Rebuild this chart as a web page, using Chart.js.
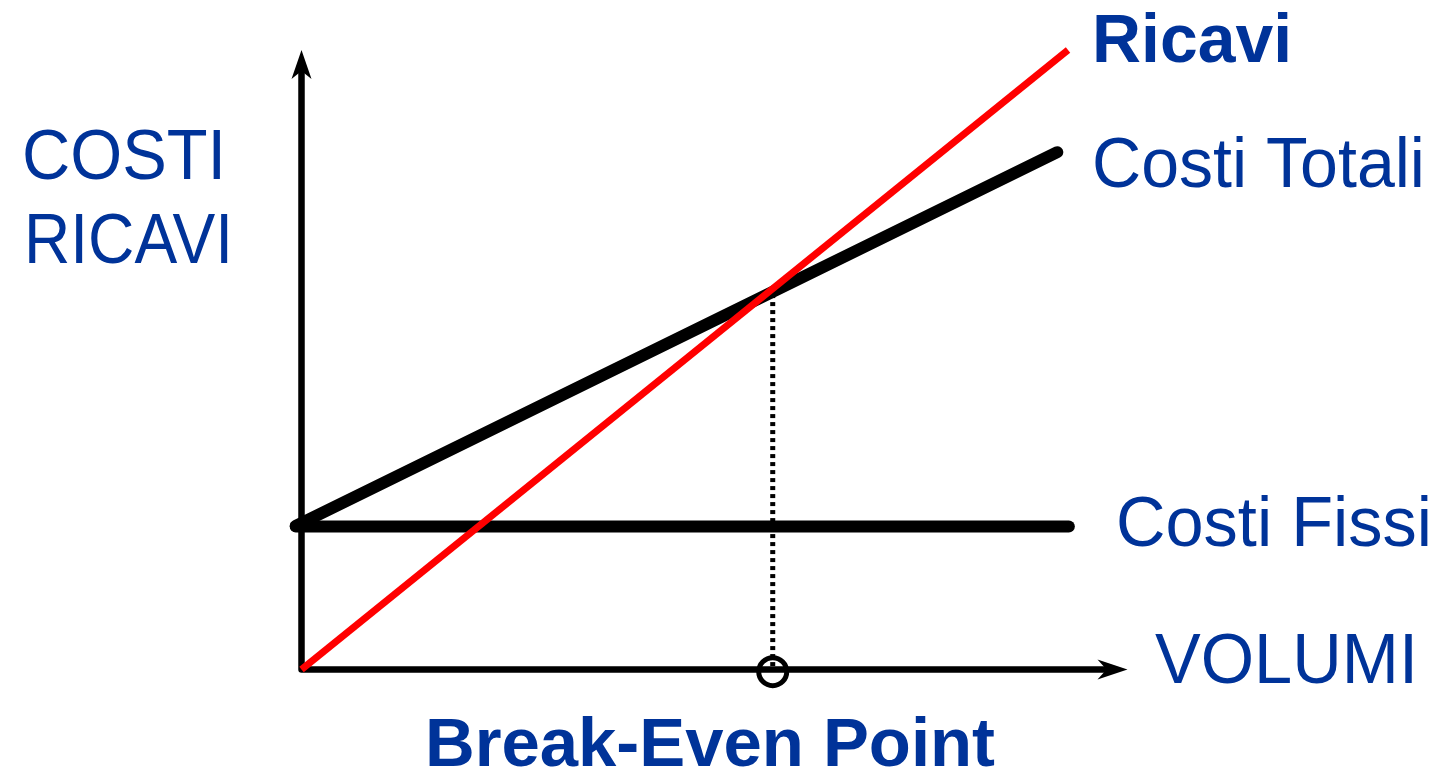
<!DOCTYPE html>
<html>
<head>
<meta charset="utf-8">
<script src="https://cdn.jsdelivr.net/npm/chart.js@4.4.1/dist/chart.umd.min.js"></script>
<style>
  html, body { margin: 0; padding: 0; background: #ffffff; }
  #wrap { width: 1445px; height: 774px; position: relative; }
  canvas { display: block; }
</style>
</head>
<body>
<div id="wrap"><canvas id="c" width="1445" height="774"></canvas></div>
<script>
// ---- data (volume on x, costs / revenues on y) ----
const ricaviX = [0, 92.8];
const ricaviY = [0, 100];
const costiTotaliX = [-0.7, 91.5];
const costiTotaliY = [23.2, 83.5];
const costiFissiX = [-0.7, 92.9];
const costiFissiY = [23.1, 23.1];
const bepX = [57.05, 57.05];
const bepY = [60.6, 0];
const bepMarker = [57.05, -0.35];
const axisX = [0, 100];
const axisY = [0, 100];

const seriesLabels = ['Ricavi', 'Costi Totali', 'Costi Fissi'];
const axisLabels = { x: 'VOLUMI', y: ['COSTI', 'RICAVI'] };
const title = 'Break-Even Point';

const pts = (xs, ys) => xs.map((x, i) => ({ x: x, y: ys[i] }));

const BLUE = '#003399';

const axesPlugin = {
  id: 'axesArrows',
  beforeDatasetsDraw(chart) {
    const ctx = chart.ctx;
    const xs = chart.scales.x, ys = chart.scales.y;
    const ox = xs.getPixelForValue(axisX[0]);
    const oy = ys.getPixelForValue(axisY[0]);
    const tx = xs.getPixelForValue(axisX[1]);
    const ty = ys.getPixelForValue(axisY[1]);
    ctx.save();
    ctx.strokeStyle = '#000';
    ctx.fillStyle = '#000';
    ctx.lineWidth = 6.5;
    ctx.lineJoin = 'round';
    ctx.beginPath();
    ctx.moveTo(ox, ty + 20);
    ctx.lineTo(ox, oy);
    ctx.lineTo(tx - 20, oy);
    ctx.stroke();
    // y arrow head
    ctx.beginPath();
    ctx.moveTo(ox, ty);
    ctx.lineTo(ox + 10, ty + 29);
    ctx.lineTo(ox, ty + 21);
    ctx.lineTo(ox - 10, ty + 29);
    ctx.closePath();
    ctx.fill();
    // x arrow head
    ctx.beginPath();
    ctx.moveTo(tx, oy);
    ctx.lineTo(tx - 30, oy - 10);
    ctx.lineTo(tx - 21, oy);
    ctx.lineTo(tx - 30, oy + 10);
    ctx.closePath();
    ctx.fill();
    ctx.restore();
  }
};

function fitText(ctx, text, left, baseline, width) {
  const w = ctx.measureText(text).width;
  ctx.save();
  ctx.translate(left, baseline);
  ctx.scale(width / w, 1);
  ctx.fillText(text, 0, 0);
  ctx.restore();
}

const labelsPlugin = {
  id: 'labels',
  afterDraw(chart) {
    const ctx = chart.ctx;
    ctx.save();
    ctx.fillStyle = BLUE;
    ctx.textBaseline = 'alphabetic';
    ctx.textAlign = 'left';
    ctx.font = '70px "Liberation Sans", Arial, sans-serif';
    fitText(ctx, axisLabels.y[0], 22, 179, 204);
    fitText(ctx, axisLabels.y[1], 24, 263, 209);
    fitText(ctx, seriesLabels[1], 1092, 187, 333);
    fitText(ctx, seriesLabels[2], 1116, 546, 316);
    fitText(ctx, axisLabels.x, 1155, 683, 263);
    ctx.font = 'bold 68px "Liberation Sans", Arial, sans-serif';
    fitText(ctx, seriesLabels[0], 1092, 62, 200);
    fitText(ctx, title, 425, 766, 570);
    ctx.restore();
  }
};

new Chart(document.getElementById('c'), {
  type: 'scatter',
  data: {
    datasets: [
      {
        label: seriesLabels[0],
        data: pts(ricaviX, ricaviY),
        showLine: true,
        borderColor: '#ff0000',
        borderWidth: 7,
        borderCapStyle: 'butt',
        pointRadius: 0,
        clip: false,
        order: 1
      },
      {
        label: seriesLabels[1],
        data: pts(costiTotaliX, costiTotaliY),
        showLine: true,
        borderColor: '#000000',
        borderWidth: 12,
        borderCapStyle: 'round',
        pointRadius: 0,
        clip: false,
        order: 2
      },
      {
        label: seriesLabels[2],
        data: pts(costiFissiX, costiFissiY),
        showLine: true,
        borderColor: '#000000',
        borderWidth: 12,
        borderCapStyle: 'round',
        pointRadius: 0,
        clip: false,
        order: 3
      },
      {
        label: 'BEP',
        data: pts(bepX, bepY),
        showLine: true,
        borderColor: '#000000',
        borderWidth: 5,
        borderDash: [4, 4],
        borderCapStyle: 'butt',
        pointRadius: 0,
        clip: false,
        order: 4
      },
      {
        label: 'BEP marker',
        data: [{ x: bepMarker[0], y: bepMarker[1] }],
        showLine: false,
        pointStyle: 'circle',
        pointRadius: 14,
        pointBorderWidth: 5,
        pointBorderColor: '#000000',
        pointBackgroundColor: 'rgba(0,0,0,0)',
        clip: false,
        order: 0
      }
    ]
  },
  options: {
    responsive: false,
    animation: false,
    devicePixelRatio: 1,
    layout: { padding: { left: 284.98, right: 317.5, top: 50, bottom: 92.1 } },
    scales: {
      x: { type: 'linear', min: -2, max: 100, display: false },
      y: { type: 'linear', min: -2, max: 100, display: false }
    },
    plugins: {
      legend: { display: false },
      tooltip: { enabled: false },
      title: { display: false }
    }
  },
  plugins: [axesPlugin, labelsPlugin]
});
</script>
</body>
</html>
